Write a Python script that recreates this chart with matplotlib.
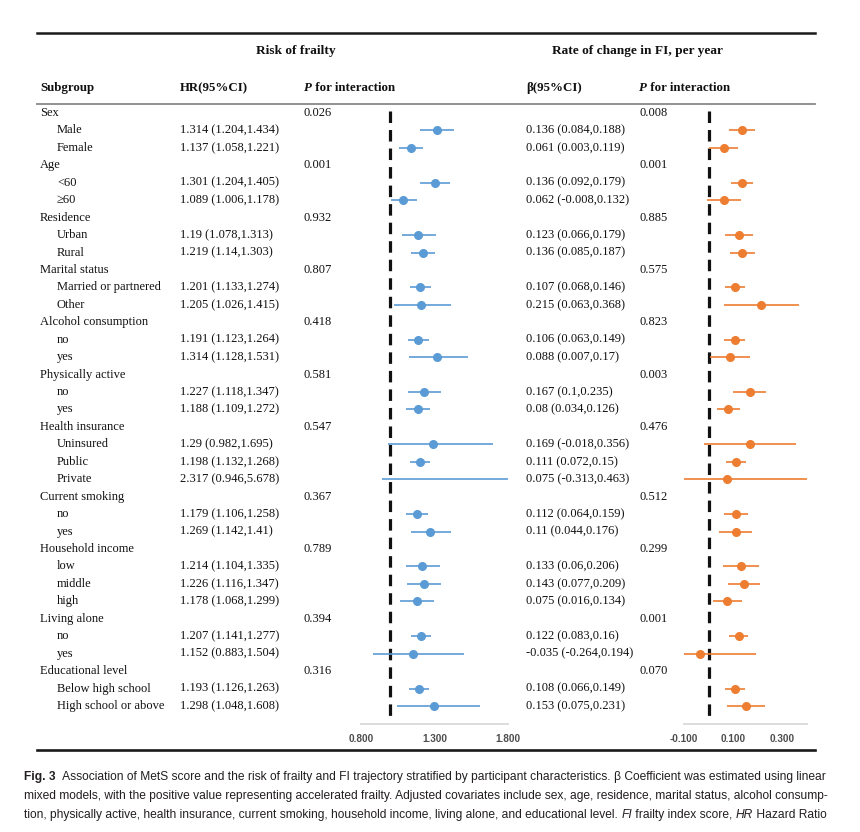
import numpy as np
import matplotlib
matplotlib.use("Agg")
import matplotlib.pyplot as plt
from matplotlib import font_manager

groups = ["Sex", "Age", "Residence", "Marital status", "Alcohol consumption",
          "Physically active", "Health insurance", "Current smoking",
          "Household income", "Living alone", "Educational level"]
levels = [["Male", "Female"], ["<60", "≥60"], ["Urban", "Rural"],
          ["Married or partnered", "Other"], ["no", "yes"], ["no", "yes"],
          ["Uninsured", "Public", "Private"], ["no", "yes"],
          ["low", "middle", "high"], ["no", "yes"],
          ["Below high school", "High school or above"]]
p_hr = [0.026, 0.001, 0.932, 0.807, 0.418, 0.581, 0.547, 0.367, 0.789, 0.394, 0.316]
p_beta = [0.008, 0.001, 0.885, 0.575, 0.823, 0.003, 0.476, 0.512, 0.299, 0.001, 0.070]
hr = [[1.314, 1.137], [1.301, 1.089], [1.19, 1.219], [1.201, 1.205], [1.191, 1.314],
      [1.227, 1.188], [1.29, 1.198, 2.317], [1.179, 1.269], [1.214, 1.226, 1.178],
      [1.207, 1.152], [1.193, 1.298]]
hr_lo = [[1.204, 1.058], [1.204, 1.006], [1.078, 1.14], [1.133, 1.026], [1.123, 1.128],
         [1.118, 1.109], [0.982, 1.132, 0.946], [1.106, 1.142], [1.104, 1.116, 1.068],
         [1.141, 0.883], [1.126, 1.048]]
hr_hi = [[1.434, 1.221], [1.405, 1.178], [1.313, 1.303], [1.274, 1.415], [1.264, 1.531],
         [1.347, 1.272], [1.695, 1.268, 5.678], [1.258, 1.41], [1.335, 1.347, 1.299],
         [1.277, 1.504], [1.263, 1.608]]
beta = [[0.136, 0.061], [0.136, 0.062], [0.123, 0.136], [0.107, 0.215], [0.106, 0.088],
        [0.167, 0.08], [0.169, 0.111, 0.075], [0.112, 0.11], [0.133, 0.143, 0.075],
        [0.122, -0.035], [0.108, 0.153]]
beta_lo = [[0.084, 0.003], [0.092, -0.008], [0.066, 0.085], [0.068, 0.063], [0.063, 0.007],
           [0.1, 0.034], [-0.018, 0.072, -0.313], [0.064, 0.044], [0.06, 0.077, 0.016],
           [0.083, -0.264], [0.066, 0.075]]
beta_hi = [[0.188, 0.119], [0.179, 0.132], [0.179, 0.187], [0.146, 0.368], [0.149, 0.17],
           [0.235, 0.126], [0.356, 0.15, 0.463], [0.159, 0.176], [0.206, 0.209, 0.134],
           [0.16, 0.194], [0.149, 0.231]]
hr_ticks = [0.8, 1.3, 1.8]
beta_ticks = [-0.1, 0.1, 0.3]

caption = [
    [("Fig. 3", "bold", "normal"),
     ("  Association of MetS score and the risk of frailty and FI trajectory stratified by participant characteristics. "
      "β Coefficient was estimated using linear", "normal", "normal")],
    [("mixed models, with the positive value representing accelerated frailty. Adjusted covariates include sex, age, "
      "residence, marital status, alcohol consump-", "normal", "normal")],
    [("tion, physically active, health insurance, current smoking, household income, living alone, and educational level. ",
      "normal", "normal"),
     ("FI", "normal", "italic"), (" frailty index score, ", "normal", "normal"),
     ("HR", "normal", "italic"), (" Hazard Ratio", "normal", "normal")],
]

W, H = 860, 832
serif = "Liberation Serif"
avail = {f.name for f in font_manager.fontManager.ttflist}
cap_font = "Liberation Sans Narrow" if "Liberation Sans Narrow" in avail else "Liberation Sans"

fig = plt.figure(figsize=(W / 100, H / 100), dpi=100)
renderer = fig.canvas.get_renderer()


def fx(x):
    return x / W


def fy(y):
    return 1 - y / H


def txt(x, y, s, size=9, **kw):
    return fig.text(fx(x), fy(y), s, va="center", family=serif, fontsize=size, color="#111111", **kw)


def runs(x, y, parts, **kw):
    # draw text pieces one after another on the same baseline
    for s, weight, style in parts:
        t = fig.text(fx(x), fy(y), s, va="center", weight=weight, style=style, **kw)
        x += t.get_window_extent(renderer).width
    return x


# rules
fig.add_artist(plt.Line2D([fx(37), fx(815)], [fy(33), fy(33)], color="#1a1a1a", lw=1.8))
fig.add_artist(plt.Line2D([fx(37), fx(815)], [fy(104), fy(104)], color="#888888", lw=1.3))
fig.add_artist(plt.Line2D([fx(37), fx(815)], [fy(750), fy(750)], color="#1a1a1a", lw=1.9))

# headers
txt(296, 51, "Risk of frailty", size=9.6, weight="bold", ha="center")
txt(637, 51, "Rate of change in FI, per year", size=9.6, weight="bold", ha="center")
txt(40, 88, "Subgroup", size=9.3, weight="bold")
txt(180, 88, "HR(95%CI)", size=9.3, weight="bold")
txt(526, 88, "β(95%CI)", size=9.3, weight="bold")
for xp in (304, 639):
    runs(xp, 88, [("P", "bold", "italic"), (" for interaction", "bold", "normal")],
         family=serif, fontsize=9.3, color="#111111")

# table rows
y0, dy = 113, 17.44
row = 0
ys_hr, m_hr, lo_hr, hi_hr = [], [], [], []
m_b, lo_b, hi_b = [], [], []
for g in range(len(groups)):
    y = y0 + row * dy
    txt(40, y, groups[g])
    txt(304, y, f"{p_hr[g]:.3f}")
    txt(639, y, f"{p_beta[g]:.3f}")
    row += 1
    for k, lev in enumerate(levels[g]):
        y = y0 + row * dy
        txt(57, y, lev)
        txt(180, y, f"{hr[g][k]:g} ({hr_lo[g][k]:g},{hr_hi[g][k]:g})")
        txt(526, y, f"{beta[g][k]:g} ({beta_lo[g][k]:g},{beta_hi[g][k]:g})")
        ys_hr.append(row)
        m_hr.append(hr[g][k]); lo_hr.append(hr_lo[g][k]); hi_hr.append(hr_hi[g][k])
        m_b.append(beta[g][k]); lo_b.append(beta_lo[g][k]); hi_b.append(beta_hi[g][k])
        row += 1

n_rows = row
top_px, bot_px = 105, 724
ylim = ((bot_px - y0) / dy, (top_px - y0) / dy)


def forest(x0, x1, xlim, ref, ticks, m, lo, hi, color):
    ax = fig.add_axes([fx(x0), fy(bot_px), (x1 - x0) / W, (bot_px - top_px) / H])
    ax.set_xlim(*xlim)
    ax.set_ylim(*ylim)
    ax.vlines(ref, -0.1, n_rows - 0.2, color="#111111", lw=2.3, linestyles=(0, (3.6, 2.2)), zorder=1)
    ax.hlines(ys_hr, lo, hi, color=color, lw=1.2, zorder=2)
    ax.plot(m, ys_hr, "o", color=color, ms=5.5, zorder=3)
    for s in ("top", "left", "right"):
        ax.spines[s].set_visible(False)
    ax.spines["bottom"].set_color("#d9d9d9")
    ax.spines["bottom"].set_linewidth(1.3)
    ax.set_yticks([])
    ax.set_xticks(ticks)
    ax.set_xticklabels([f"{t:.3f}" for t in ticks])
    ax.tick_params(axis="x", length=0, pad=7, labelsize=7.2, labelcolor="#4d4d4d")
    for lab in ax.get_xticklabels():
        lab.set_family("Liberation Sans")
        lab.set_weight("bold")
    ax.patch.set_alpha(0)
    return ax


forest(361, 508, (0.8, 1.8), 1.0, hr_ticks, m_hr, lo_hr, hi_hr, "#5b9bd5")
forest(684, 807, (-0.1, 0.4), 0.0, beta_ticks, m_b, lo_b, hi_b, "#ed7d31")

# caption, sized so the first line fills the text width
cap_size = 8.0
probe = fig.text(0, 0, "".join(p[0] for p in caption[0]), family=cap_font, fontsize=cap_size)
wpx = probe.get_window_extent(renderer).width
probe.remove()
cap_size = cap_size * 806 / wpx
for i, parts in enumerate(caption):
    runs(24, 777 + i * 19, parts, family=cap_font, fontsize=cap_size, color="#231f20")

fig.savefig("out.png", dpi=100)
